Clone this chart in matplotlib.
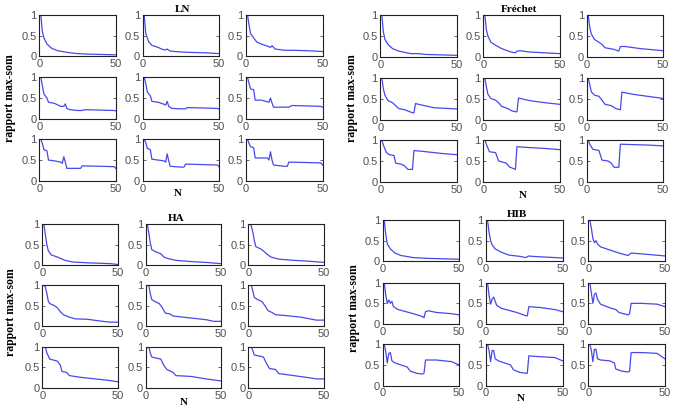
import matplotlib
matplotlib.use('Agg')
import matplotlib.pyplot as plt

LN_N = [
    [1, 2, 3, 5, 8, 12, 15, 20, 25, 30, 40, 50],
    [1, 2, 3, 4, 6, 10, 13, 15, 16, 18, 25, 30, 40, 50],
    [1, 2, 3, 5, 7, 10, 14, 16, 17, 19, 25, 30, 40, 50],
    [1, 2, 3, 4, 5, 6, 10, 14, 16, 17, 18, 20, 25, 28, 30, 40, 49, 50],
    [1, 2, 3, 4, 5, 6, 10, 14, 15, 16, 17, 19, 25, 28, 29, 40, 49, 50],
    [1, 2, 3, 5, 6, 10, 13, 15, 16, 17, 18, 25, 28, 30, 40, 49, 50],
    [1, 2, 3, 5, 6, 10, 14, 15, 16, 17, 18, 25, 27, 28, 40, 49, 50],
    [1, 2, 3, 5, 6, 10, 14, 15, 16, 17, 18, 25, 27, 28, 30, 40, 49, 50],
    [1, 2, 3, 5, 6, 10, 14, 15, 16, 17, 18, 25, 27, 28, 40, 49, 50],
]
LN_R = [
    [1.0, 0.6, 0.45, 0.3, 0.2, 0.14, 0.12, 0.09, 0.07, 0.06, 0.05, 0.04],
    [1.0, 0.55, 0.45, 0.35, 0.27, 0.22, 0.17, 0.16, 0.18, 0.13, 0.11, 0.1, 0.09, 0.07],
    [1.0, 0.75, 0.55, 0.45, 0.35, 0.3, 0.25, 0.22, 0.26, 0.18, 0.15, 0.15, 0.14, 0.12],
    [1.0, 0.8, 0.6, 0.55, 0.5, 0.4, 0.37, 0.3, 0.3, 0.36, 0.25, 0.22, 0.2, 0.2, 0.22, 0.21, 0.2, 0.19],
    [1.0, 0.85, 0.65, 0.6, 0.55, 0.42, 0.4, 0.35, 0.33, 0.42, 0.3, 0.25, 0.24, 0.24, 0.27, 0.26, 0.25, 0.23],
    [1.0, 0.85, 0.72, 0.7, 0.45, 0.45, 0.42, 0.4, 0.5, 0.38, 0.28, 0.28, 0.28, 0.32, 0.31, 0.3, 0.28],
    [1.0, 0.9, 0.75, 0.72, 0.5, 0.48, 0.45, 0.42, 0.58, 0.45, 0.3, 0.3, 0.3, 0.36, 0.35, 0.34, 0.3],
    [1.0, 0.92, 0.78, 0.75, 0.52, 0.5, 0.48, 0.45, 0.65, 0.48, 0.35, 0.33, 0.33, 0.4, 0.4, 0.39, 0.38, 0.33],
    [1.0, 0.9, 0.82, 0.8, 0.55, 0.55, 0.55, 0.5, 0.7, 0.5, 0.38, 0.35, 0.35, 0.45, 0.44, 0.43, 0.38],
]

FR_N = [
    [1, 2, 3, 5, 8, 12, 20, 25, 30, 40, 50],
    [1, 2, 3, 5, 8, 12, 18, 21, 22, 24, 30, 40, 50],
    [1, 2, 3, 5, 8, 10, 12, 18, 21, 22, 25, 35, 50],
    [1, 2, 3, 5, 8, 10, 12, 16, 21, 22, 23, 25, 35, 50],
    [1, 2, 3, 5, 8, 10, 12, 16, 19, 22, 23, 30, 40, 50],
    [1, 2, 3, 5, 8, 10, 12, 16, 19, 22, 23, 30, 40, 50],
    [1, 2, 4, 6, 9, 10, 14, 16, 18, 21, 22, 30, 40, 50],
    [1, 2, 4, 8, 10, 13, 15, 17, 21, 22, 30, 40, 50],
    [1, 2, 4, 8, 10, 14, 16, 18, 21, 22, 30, 40, 50],
]
FR_R = [
    [1.0, 0.6, 0.42, 0.3, 0.2, 0.14, 0.08, 0.08, 0.06, 0.05, 0.04],
    [1.0, 0.65, 0.5, 0.35, 0.28, 0.2, 0.12, 0.1, 0.14, 0.15, 0.12, 0.1, 0.08],
    [1.0, 0.7, 0.55, 0.42, 0.35, 0.3, 0.22, 0.18, 0.14, 0.25, 0.25, 0.2, 0.15],
    [1.0, 0.75, 0.6, 0.47, 0.42, 0.35, 0.28, 0.25, 0.18, 0.18, 0.4, 0.38, 0.3, 0.27],
    [1.0, 0.8, 0.62, 0.52, 0.48, 0.42, 0.33, 0.28, 0.22, 0.2, 0.53, 0.47, 0.42, 0.38],
    [1.0, 0.85, 0.68, 0.6, 0.57, 0.48, 0.38, 0.35, 0.28, 0.25, 0.67, 0.62, 0.57, 0.52],
    [1.0, 0.88, 0.7, 0.65, 0.63, 0.45, 0.42, 0.38, 0.3, 0.3, 0.75, 0.72, 0.68, 0.65],
    [1.0, 0.9, 0.72, 0.7, 0.5, 0.47, 0.45, 0.36, 0.3, 0.84, 0.82, 0.8, 0.77],
    [1.0, 0.9, 0.78, 0.75, 0.52, 0.5, 0.45, 0.35, 0.35, 0.9, 0.89, 0.88, 0.86],
]

HA_N = [
    [1, 2, 3, 4, 6, 10, 15, 20, 30, 45, 50],
    [1, 2, 3, 4, 7, 10, 12, 15, 20, 30, 40, 50],
    [1, 2, 3, 4, 5, 8, 10, 12, 15, 20, 30, 40, 50],
    [1, 2, 3, 4, 5, 8, 10, 12, 14, 18, 22, 30, 40, 45, 50],
    [1, 2, 3, 4, 6, 9, 11, 13, 16, 18, 30, 40, 45, 50],
    [1, 2, 3, 4, 6, 9, 11, 13, 16, 18, 25, 35, 45, 50],
    [1, 2, 3, 5, 10, 12, 13, 16, 18, 25, 35, 45, 50],
    [1, 2, 3, 4, 10, 12, 14, 18, 20, 30, 40, 50],
    [1, 2, 3, 4, 10, 12, 14, 18, 20, 30, 40, 45, 50],
]
HA_R = [
    [1.0, 0.75, 0.5, 0.35, 0.25, 0.2, 0.12, 0.08, 0.06, 0.04, 0.02],
    [1.0, 0.8, 0.55, 0.38, 0.32, 0.28, 0.2, 0.16, 0.12, 0.09, 0.07, 0.04],
    [1.0, 0.95, 0.8, 0.6, 0.45, 0.4, 0.35, 0.28, 0.2, 0.15, 0.12, 0.1, 0.07],
    [1.0, 0.95, 0.8, 0.6, 0.55, 0.5, 0.45, 0.35, 0.28, 0.22, 0.18, 0.17, 0.12, 0.1, 0.1],
    [1.0, 1.0, 0.8, 0.65, 0.6, 0.55, 0.45, 0.32, 0.3, 0.25, 0.2, 0.16, 0.12, 0.12],
    [1.0, 1.0, 0.85, 0.7, 0.65, 0.6, 0.5, 0.38, 0.33, 0.28, 0.26, 0.22, 0.15, 0.15],
    [1.0, 1.0, 0.85, 0.7, 0.65, 0.55, 0.4, 0.38, 0.3, 0.26, 0.22, 0.18, 0.15],
    [1.0, 1.0, 0.85, 0.75, 0.7, 0.55, 0.45, 0.38, 0.3, 0.28, 0.22, 0.17],
    [1.0, 1.0, 0.9, 0.8, 0.75, 0.6, 0.47, 0.45, 0.35, 0.3, 0.25, 0.22, 0.22],
]

HIB_N = [
    [1, 2, 3, 5, 8, 12, 20, 30, 40, 50],
    [1, 2, 3, 4, 6, 10, 15, 22, 26, 28, 30, 40, 50],
    [1, 2, 3, 4, 5, 6, 8, 12, 20, 26, 28, 35, 50],
    [1, 2, 3, 4, 5, 6, 7, 10, 15, 20, 26, 27, 28, 30, 35, 45, 50],
    [1, 2, 3, 4, 5, 6, 7, 10, 15, 20, 26, 27, 28, 35, 45, 50],
    [1, 2, 3, 4, 5, 6, 8, 10, 15, 18, 20, 26, 27, 28, 35, 45, 50],
    [1, 2, 3, 4, 5, 6, 8, 12, 16, 18, 22, 26, 27, 28, 35, 45, 50],
    [1, 2, 3, 4, 5, 6, 8, 12, 16, 18, 22, 26, 27, 28, 35, 45, 50],
    [1, 2, 3, 4, 5, 6, 8, 14, 17, 18, 22, 26, 27, 28, 35, 45, 50],
]
HIB_R = [
    [1.0, 0.65, 0.42, 0.3, 0.2, 0.14, 0.09, 0.07, 0.06, 0.05],
    [1.0, 0.7, 0.5, 0.4, 0.3, 0.22, 0.15, 0.12, 0.09, 0.13, 0.12, 0.1, 0.08],
    [1.0, 0.8, 0.55, 0.45, 0.5, 0.42, 0.35, 0.3, 0.2, 0.14, 0.2, 0.18, 0.13],
    [1.0, 0.7, 0.5, 0.58, 0.5, 0.55, 0.42, 0.35, 0.3, 0.25, 0.18, 0.15, 0.3, 0.32, 0.28, 0.25, 0.22],
    [1.0, 0.7, 0.48, 0.6, 0.65, 0.55, 0.45, 0.38, 0.33, 0.28, 0.2, 0.2, 0.42, 0.4, 0.35, 0.3],
    [1.0, 0.75, 0.5, 0.72, 0.75, 0.6, 0.48, 0.45, 0.38, 0.35, 0.28, 0.22, 0.25, 0.5, 0.5, 0.48, 0.42],
    [1.0, 0.82, 0.55, 0.78, 0.8, 0.6, 0.55, 0.5, 0.45, 0.35, 0.3, 0.28, 0.3, 0.62, 0.62, 0.58, 0.5],
    [1.0, 0.85, 0.58, 0.85, 0.85, 0.65, 0.6, 0.55, 0.5, 0.38, 0.32, 0.3, 0.3, 0.72, 0.7, 0.68, 0.6],
    [1.0, 0.85, 0.58, 0.88, 0.88, 0.65, 0.62, 0.6, 0.55, 0.4, 0.35, 0.33, 0.35, 0.8, 0.8, 0.78, 0.65],
]

TITLES = ['LN', 'Fréchet', 'HA', 'HIB']
YLABEL = 'rapport max-som'
XLABEL = 'N'

W, H = 677, 411
LINE_COLOR = '#4848ec'
TICK_COLOR = '#505050'

# pixel layout of each 3x3 block: column lefts, row tops, panel width/height
groups = [
    dict(n=LN_N, r=LN_R, lefts=[39.3, 142.7, 246], tops=[15, 77.3, 139.3], w=76.5, h=41.5,
         title=(183, 9), xlab=(178, 193), ylab=(10, 98)),
    dict(n=FR_N, r=FR_R, lefts=[380.3, 483.3, 586.7], tops=[15, 78.3, 140], w=76.5, h=42,
         title=(519, 9), xlab=(523, 195), ylab=(352, 98)),
    dict(n=HA_N, r=HA_R, lefts=[42.3, 145.7, 248.3], tops=[224, 285, 346.7], w=75.5, h=41.3,
         title=(176, 218), xlab=(184, 402), ylab=(11, 312)),
    dict(n=HIB_N, r=HIB_R, lefts=[382.7, 486, 588.3], tops=[220, 282.7, 344.3], w=76.5, h=41.3,
         title=(517, 214), xlab=(521, 398), ylab=(354, 308)),
]

fig = plt.figure(figsize=(W / 100, H / 100), dpi=100)
fig.patch.set_facecolor('white')

serif = ['Liberation Serif', 'DejaVu Serif']

for gi, g in enumerate(groups):
    for k in range(9):
        row, col = divmod(k, 3)
        left = g['lefts'][col]
        top = g['tops'][row]
        ax = fig.add_axes([left / W, 1 - (top + g['h']) / H, g['w'] / W, g['h'] / H])
        ax.plot(g['n'][k], g['r'][k], color=LINE_COLOR, linewidth=0.9)
        ax.set_xlim(0, 50)
        ax.set_ylim(0, 1)
        ax.set_xticks([0, 50])
        ax.set_yticks([0, 0.5, 1])
        ax.set_yticklabels(['0', '0.5', '1'])
        ax.tick_params(direction='in', length=2, width=0.6, top=True, right=True,
                       labelsize=8, colors=TICK_COLOR, pad=2)
        for lab in ax.get_xticklabels() + ax.get_yticklabels():
            lab.set_fontfamily('Liberation Sans')
        for sp in ax.spines.values():
            sp.set_linewidth(0.8)
            sp.set_color('#202020')

    tx, ty = g['title']
    fig.text(tx / W, 1 - ty / H, TITLES[gi], ha='center', va='center',
             fontsize=8, fontweight='bold', family=serif)
    nx, ny = g['xlab']
    fig.text(nx / W, 1 - ny / H, XLABEL, ha='center', va='center',
             fontsize=8, fontweight='bold', family=serif)
    lx, ly = g['ylab']
    fig.text(lx / W, 1 - ly / H, YLABEL, ha='center', va='center', rotation=90,
             fontsize=8.5, fontweight='bold', family=serif)

fig.savefig('out.png', dpi=100)
plt.close(fig)
